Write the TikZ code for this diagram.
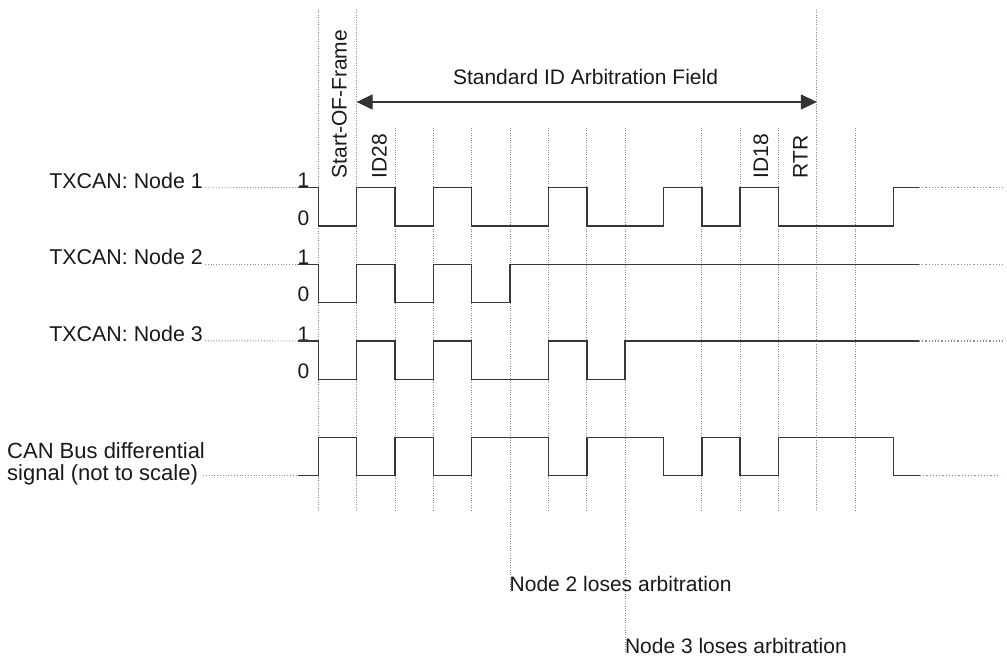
\documentclass[tikz,border=0pt]{standalone}
\usepackage{fontspec}
\setmainfont{Liberation Sans}
\usetikzlibrary{arrows.meta}
\begin{document}
\begin{tikzpicture}[x=1pt,y=-1pt,
  sig/.style={line width=1.5pt, draw=black!78, line join=miter},
  sigdot/.style={draw=black!45, line width=1.2pt, dash pattern=on 1.2pt off 2pt},
  gridline/.style={draw=black!45, line width=0.9pt, dash pattern=on 1pt off 1.4pt},
  leader/.style={draw=black!45, line width=0.9pt, dash pattern=on 1pt off 1.8pt},
  lbl/.style={font=\fontsize{21}{23}\selectfont, text=black!90, inner sep=0pt},
  lblbig/.style={font=\fontsize{21.4}{23}\selectfont, text=black!90, inner sep=0pt},
  lblcan/.style={font=\fontsize{22}{24}\selectfont, text=black!90, inner sep=0pt},
  dblarrow/.style={line width=1.3pt, draw=black!80,
    {Triangle[length=16pt,width=15pt]}-{Triangle[length=16pt,width=15pt]}},
]
\useasboundingbox (0,0) rectangle (1007,658);

% bit boundaries x_k = 318.3 + 38.35 k
\foreach \k/\top/\bot in {0/10/510, 1/10/510, 2/128/510, 3/128/510, 4/128/510,
  5/128/592, 6/128/510, 7/128/510, 8/128/653, 10/128/510, 11/128/510,
  12/128/510, 13/10/510, 14/128/510}
  \draw[gridline] ({318.3+38.35*\k},\top) -- ({318.3+38.35*\k},\bot);

% title and arrow
\node[lbl, anchor=base] (title) at (585.5,85) {Standard ID Arbitration Field};
\coordinate (al) at (356.65,102);
\coordinate (ar) at (816.85,102);
\draw[dblarrow] (al) -- (ar);

% rotated field labels
\node[lbl, rotate=90, anchor=base west] (sof) at (346.5,178.5) {Start-OF-Frame};
\node[lbl, rotate=90, anchor=base west] (id28) at (386.5,178.5) {ID28};
\node[lbl, rotate=90, anchor=base west] (id18) at (768,178.5) {ID18};
\node[lbl, rotate=90, anchor=base west] (rtr) at (807.5,178.5) {RTR};

% left labels
\node[lblbig, anchor=base east] (tx1) at (203,188.3) {TXCAN: Node 1};
\node[lblbig, anchor=base east] (tx2) at (203,264.8) {TXCAN: Node 2};
\node[lblbig, anchor=base east] (tx3) at (203,341.3) {TXCAN: Node 3};
\node[lblcan, anchor=base west] (can1) at (7,458) {CAN Bus differential};
\node[lblcan, anchor=base west] (can2) at (7,480) {signal (not to scale)};

\coordinate (l1) at (298,187.5);
\coordinate (l2) at (298,264.3);
\coordinate (l3) at (298,341);
\coordinate (l4) at (298,475.7);
\draw[leader] (tx1.base east) ++(2,-0.5) -- (l1);
\draw[leader] (tx2.base east) ++(2,-0.5) -- (l2);
\draw[leader] (tx3.base east) ++(2,-0.5) -- (l3);
\draw[leader] (can2.east |- l4) ++(5,0) -- (l4);

% level labels
\foreach \h/\l [count=\i] in {187.5/226, 264.3/302.7, 341/379.3}{
  \node[lbl, anchor=base] (one\i) at (303.5,\h) {1};
  \node[lbl, anchor=base] (zero\i) at (303.5,\l-1) {0};
}

% Node 1
\draw[sig] (l1) -- (318.3,187.5) -- (318.3,226) -- (356.65,226) -- (356.65,187.5)
  -- (395,187.5) -- (395,226) -- (433.35,226) -- (433.35,187.5) -- (471.7,187.5)
  -- (471.7,226) -- (548.4,226) -- (548.4,187.5) -- (586.75,187.5) -- (586.75,226)
  -- (663.45,226) -- (663.45,187.5) -- (701.8,187.5) -- (701.8,226) -- (740.15,226)
  -- (740.15,187.5) -- (778.5,187.5) -- (778.5,226) -- (893.55,226)
  -- (893.55,187.5) -- (919,187.5) coordinate (e1);
\draw[sigdot] (e1) -- (1004,187.5);

% Node 2
\draw[sig] (l2) -- (318.3,264.3) -- (318.3,302.7) -- (356.65,302.7) -- (356.65,264.3)
  -- (395,264.3) -- (395,302.7) -- (433.35,302.7) -- (433.35,264.3) -- (471.7,264.3)
  -- (471.7,302.7) -- (510.05,302.7) -- (510.05,264.3) -- (919,264.3) coordinate (e2);
\draw[sigdot] (e2) -- (1004,264.3);

% Node 3
\draw[sig] (l3) -- (318.3,341) -- (318.3,379.3) -- (356.65,379.3) -- (356.65,341)
  -- (395,341) -- (395,379.3) -- (433.35,379.3) -- (433.35,341) -- (471.7,341)
  -- (471.7,379.3) -- (548.4,379.3) -- (548.4,341) -- (586.75,341) -- (586.75,379.3)
  -- (625.1,379.3) -- (625.1,341) -- (919,341) coordinate (e3);
\draw[sigdot] (e3) -- (1004,341);

% CAN bus
\draw[sig] (l4) -- (318.3,475.7) -- (318.3,437.3) -- (356.65,437.3) -- (356.65,475.7)
  -- (395,475.7) -- (395,437.3) -- (433.35,437.3) -- (433.35,475.7) -- (471.7,475.7)
  -- (471.7,437.3) -- (548.4,437.3) -- (548.4,475.7) -- (586.75,475.7) -- (586.75,437.3)
  -- (663.45,437.3) -- (663.45,475.7) -- (701.8,475.7) -- (701.8,437.3) -- (740.15,437.3)
  -- (740.15,475.7) -- (778.5,475.7) -- (778.5,437.3) -- (893.55,437.3)
  -- (893.55,475.7) -- (920,475.7) coordinate (e4);
\draw[sigdot] (e4) -- (1000,475.7);

% bottom notes
\node[lbl, anchor=base west] (lose2) at (509.5,591.5) {Node 2 loses arbitration};
\node[lbl, anchor=base west] (lose3) at (624.8,653) {Node 3 loses arbitration};
\end{tikzpicture}
\end{document}
